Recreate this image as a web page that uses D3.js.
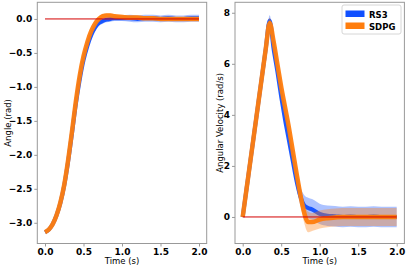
<!DOCTYPE html>
<html>
<head>
<meta charset="utf-8">
<script src="https://cdn.jsdelivr.net/npm/d3@7"></script>
<style>
  body { margin: 0; background: #fff; }
  svg { display: block; }
  .tick text { font-family: "DejaVu Sans", sans-serif; font-weight: bold; font-size: 9px; fill: #000; }
  .tick line { stroke: #999; }
  .domain { stroke: none; }
  .label { font-family: "DejaVu Sans", sans-serif; font-size: 8.5px; fill: #000; }
</style>
</head>
<body>
<script>
const w = 407;
const h = 268;

// time samples (s)
const time = [0, 0.05, 0.1, 0.15, 0.2, 0.25, 0.3, 0.35, 0.4, 0.45, 0.5, 0.55, 0.6, 0.65, 0.7, 0.75, 0.8,
  0.85, 0.9, 1.0, 1.1, 1.2, 1.3, 1.4, 1.5, 1.6, 1.7, 1.8, 1.9, 2.0];

// angle (rad), mean of the rollouts and half spread
const angleRS3 = [-3.14, -3.10, -3.02, -2.89, -2.71, -2.45, -2.10, -1.69, -1.26, -0.90, -0.61, -0.40, -0.24, -0.13,
  -0.06, -0.03, -0.01, 0.0, 0.01, 0.01, 0.01, 0.0, 0.01, 0.01, 0.0, 0.01, 0.0, 0.0, 0.01, 0.01];
const angleRS3Spread = [0.01, 0.02, 0.02, 0.03, 0.03, 0.03, 0.04, 0.04, 0.04, 0.04, 0.04, 0.04, 0.04, 0.04,
  0.04, 0.04, 0.04, 0.04, 0.04, 0.04, 0.05, 0.05, 0.05, 0.05, 0.05, 0.05, 0.05, 0.05, 0.05, 0.05];
const angleSDPG = [-3.14, -3.10, -3.02, -2.89, -2.70, -2.44, -2.08, -1.66, -1.22, -0.84, -0.55, -0.34, -0.18, -0.07,
  0.0, 0.04, 0.05, 0.05, 0.04, 0.03, 0.02, 0.02, 0.01, 0.01, 0.0, 0.0, 0.0, 0.0, 0.0, 0.0];
const angleSDPGSpread = [0.01, 0.02, 0.02, 0.02, 0.03, 0.03, 0.03, 0.03, 0.03, 0.03, 0.03, 0.03, 0.03, 0.03,
  0.03, 0.03, 0.03, 0.03, 0.03, 0.03, 0.03, 0.03, 0.03, 0.03, 0.03, 0.03, 0.03, 0.03, 0.03, 0.03];

// angular velocity (rad/s), mean and half spread
const velRS3 = [0, 1.1, 2.2, 3.3, 4.4, 5.5, 6.6, 7.7, 6.6, 5.7, 4.7, 3.8, 3.0, 2.2, 1.4, 0.8, 0.45,
  0.35, 0.3, 0.12, 0.05, 0.03, 0.0, 0.02, 0.0, 0.0, 0.02, 0.0, 0.0, 0.0];
const velRS3Spread = [0.05, 0.1, 0.12, 0.15, 0.15, 0.15, 0.15, 0.2, 0.2, 0.2, 0.2, 0.2, 0.25, 0.25, 0.3, 0.35, 0.4,
  0.4, 0.4, 0.4, 0.4, 0.4, 0.4, 0.4, 0.4, 0.4, 0.4, 0.4, 0.4, 0.4];
const velSDPG = [0, 1.1, 2.2, 3.3, 4.4, 5.5, 6.6, 7.6, 6.9, 6.0, 5.1, 4.3, 3.5, 2.6, 1.7, 0.85, 0.15,
  -0.2, -0.2, -0.1, -0.05, -0.02, 0.0, 0.0, 0.0, 0.0, 0.0, 0.0, 0.0, 0.0];
const velSDPGSpread = [0.05, 0.1, 0.12, 0.15, 0.15, 0.15, 0.2, 0.2, 0.2, 0.2, 0.2, 0.2, 0.25, 0.25, 0.3, 0.35, 0.4,
  0.4, 0.35, 0.35, 0.35, 0.35, 0.35, 0.35, 0.35, 0.35, 0.35, 0.35, 0.35, 0.35];

const xTicks = [0, 0.5, 1.0, 1.5, 2.0];
const angleTicks = [0, -0.5, -1.0, -1.5, -2.0, -2.5, -3.0];
const velTicks = [0, 2, 4, 6, 8];
const seriesNames = ["RS3", "SDPG"];

const blue = "#1150ff";
const orange = "#ff7d0d";

const svg = d3.select("body").append("svg").attr("width", w).attr("height", h);

function panel(left, right, yDomain, yTicks, yFmt, ylabel, labelX, data) {
  const top = 2.3;
  const bottom = 243.5;
  const x = d3.scaleLinear().domain([-0.1, 2.1]).range([left, right]);
  const y = d3.scaleLinear().domain(yDomain).range([bottom, top]);

  const g = svg.append("g");

  g.append("g")
    .attr("transform", `translate(0,${bottom})`)
    .call(d3.axisBottom(x).tickValues(xTicks).tickFormat(d3.format(".1f")).tickSize(3).tickPadding(2));
  g.append("g")
    .attr("transform", `translate(${left},0)`)
    .call(d3.axisLeft(y).tickValues(yTicks).tickFormat(yFmt).tickSize(3).tickPadding(2));

  data.forEach((s) => {
    const area = d3.area()
      .x((d, i) => x(time[i]))
      .y0((d, i) => y(s.mean[i] - s.spread[i]))
      .y1((d, i) => y(s.mean[i] + s.spread[i]))
      .curve(d3.curveMonotoneX);
    g.append("path").datum(s.mean)
      .attr("d", area)
      .attr("fill", s.color)
      .attr("opacity", 0.35);
    const line = d3.line()
      .x((d, i) => x(time[i]))
      .y((d) => y(d))
      .curve(d3.curveMonotoneX);
    g.append("path").datum(s.mean)
      .attr("d", line)
      .attr("fill", "none")
      .attr("stroke", s.color)
      .attr("stroke-width", s.width)
      .attr("stroke-linejoin", "round")
      .attr("opacity", 0.95);
  });

  // reference line
  g.append("line")
    .attr("x1", x(0)).attr("x2", x(2))
    .attr("y1", y(0)).attr("y2", y(0))
    .attr("stroke", "#d40000")
    .attr("stroke-width", 1);

  g.append("rect")
    .attr("x", left).attr("y", top)
    .attr("width", right - left).attr("height", bottom - top)
    .attr("fill", "none").attr("stroke", "#999").attr("stroke-width", 1);

  g.append("text").attr("class", "label")
    .attr("x", (x(0) + x(2)) / 2).attr("y", 264)
    .attr("text-anchor", "middle").text("Time (s)");
  g.append("text").attr("class", "label")
    .attr("transform", `translate(${labelX},${(top + bottom) / 2}) rotate(-90)`)
    .attr("text-anchor", "middle").text(ylabel);

  return { x, y };
}

panel(37.3, 206.7, [-3.305, 0.245], angleTicks, d3.format(".1f"), "Angle (rad)", 10.5, [
  { mean: angleRS3, spread: angleRS3Spread, color: blue, width: 4 },
  { mean: angleSDPG, spread: angleSDPGSpread, color: orange, width: 4.5 }
]);

panel(235, 404.4, [-1.04, 8.41], velTicks, d3.format("d"), "Angular Velocity (rad/s)", 223, [
  { mean: velRS3, spread: velRS3Spread, color: blue, width: 4 },
  { mean: velSDPG, spread: velSDPGSpread, color: orange, width: 4.5 }
]);

// legend
const legend = svg.append("g").attr("transform", "translate(342,5)");
legend.append("rect")
  .attr("width", 59).attr("height", 29).attr("rx", 2)
  .attr("fill", "#fff").attr("fill-opacity", 0.8)
  .attr("stroke", "#ccc").attr("stroke-width", 0.8);
[blue, orange].forEach((c, i) => {
  legend.append("rect")
    .attr("x", 3.5).attr("y", 5.5 + i * 12).attr("width", 19).attr("height", 6.5)
    .attr("fill", c);
  legend.append("text")
    .attr("x", 27).attr("y", 12.5 + i * 12)
    .attr("font-family", "DejaVu Sans, sans-serif")
    .attr("font-weight", "bold").attr("font-size", 8.5)
    .text(seriesNames[i]);
});
</script>
</body>
</html>
